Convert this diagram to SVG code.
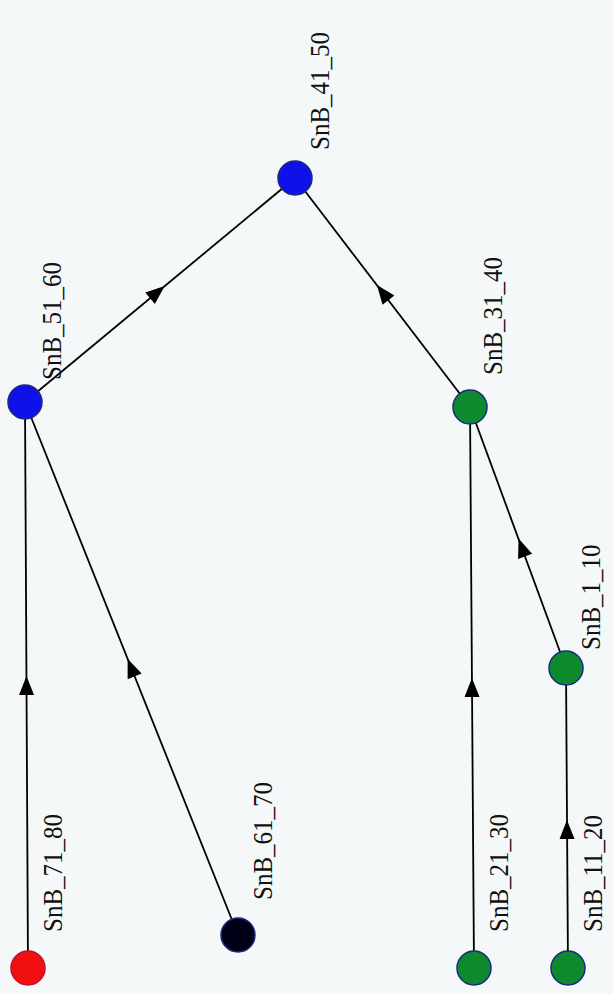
<svg xmlns="http://www.w3.org/2000/svg" width="613" height="994" viewBox="0 0 613 994">
<style>
.bg{fill:#f5f8f8}
.edge{stroke:#000;stroke-width:1.8;fill:none}
.arr{fill:#000}
.node{stroke:#1a2a80;stroke-width:1.5}
.lbl{font-family:"Liberation Serif","DejaVu Serif",serif;font-size:25px;fill:#111}
</style>
<defs>
<path id="ah" d="M10,0 L-9,-7.5 L-9,7.5 Z"/>
</defs>
<rect class="bg" x="0" y="0" width="613" height="994"/>
<g id="connectors">
<line class="edge" x1="25" y1="402" x2="295" y2="178"/>
<use class="arr" href="#ah" transform="translate(157,292.5) rotate(-39.7)"/>
<line class="edge" x1="470" y1="407" x2="295" y2="178"/>
<use class="arr" href="#ah" transform="translate(383,293) rotate(-127.4)"/>
<line class="edge" x1="566" y1="668" x2="470" y2="407"/>
<use class="arr" href="#ah" transform="translate(522,548) rotate(-110.2)"/>
<line class="edge" x1="28" y1="968" x2="25" y2="402"/>
<use class="arr" href="#ah" transform="translate(26.5,686) rotate(-90.3)"/>
<line class="edge" x1="238" y1="935" x2="25" y2="402"/>
<use class="arr" href="#ah" transform="translate(131.3,668) rotate(-111.8)"/>
<line class="edge" x1="474" y1="968" x2="470" y2="407"/>
<use class="arr" href="#ah" transform="translate(472,688) rotate(-90.4)"/>
<line class="edge" x1="568" y1="968" x2="566" y2="668"/>
<use class="arr" href="#ah" transform="translate(567,830) rotate(-90.4)"/>
</g>
<g id="SnB_41_50">
<circle class="node" cx="295" cy="178" r="17" fill="#1010e8"/>
<text class="lbl" transform="translate(329,150) rotate(-90) scale(1,1.12)">SnB_41_50</text>
</g>
<g id="SnB_51_60">
<circle class="node" cx="25" cy="402" r="17" fill="#1010e8"/>
<text class="lbl" transform="translate(61,380) rotate(-90) scale(1,1.12)">SnB_51_60</text>
</g>
<g id="SnB_31_40">
<circle class="node" cx="470" cy="407" r="17" fill="#0d8a2e"/>
<text class="lbl" transform="translate(502,375) rotate(-90) scale(1,1.12)">SnB_31_40</text>
</g>
<g id="SnB_1_10">
<circle class="node" cx="566" cy="668" r="17" fill="#0d8a2e"/>
<text class="lbl" transform="translate(600,650) rotate(-90) scale(1,1.12)">SnB_1_10</text>
</g>
<g id="SnB_71_80">
<circle class="node" cx="28" cy="968" r="17" fill="#f01010" style="stroke:#c01030"/>
<text class="lbl" transform="translate(62,932) rotate(-90) scale(1,1.12)">SnB_71_80</text>
</g>
<g id="SnB_61_70">
<circle class="node" cx="238" cy="935" r="17" fill="#000018"/>
<text class="lbl" transform="translate(272,900) rotate(-90) scale(1,1.12)">SnB_61_70</text>
</g>
<g id="SnB_21_30">
<circle class="node" cx="474" cy="968" r="17" fill="#0d8a2e"/>
<text class="lbl" transform="translate(508,932) rotate(-90) scale(1,1.12)">SnB_21_30</text>
</g>
<g id="SnB_11_20">
<circle class="node" cx="568" cy="968" r="17" fill="#0d8a2e"/>
<text class="lbl" transform="translate(602,932) rotate(-90) scale(1,1.12)">SnB_11_20</text>
</g>
</svg>
